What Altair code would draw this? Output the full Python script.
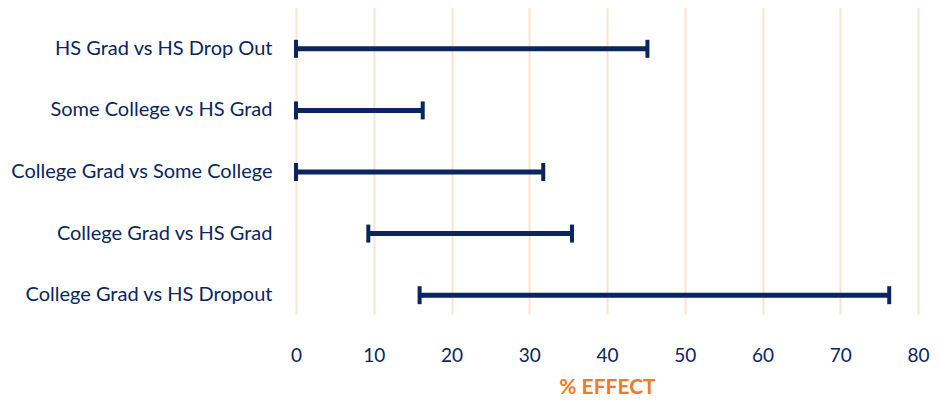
import altair as alt
import pandas as pd

comparisons = [
    "HS Grad vs HS Drop Out",
    "Some College vs HS Grad",
    "College Grad vs Some College",
    "College Grad vs HS Grad",
    "College Grad vs HS Dropout",
]
low = [0.0, 0.0, 0.0, 9.3, 15.9]
high = [45.2, 16.3, 31.8, 35.5, 76.3]
x_ticks = [0, 10, 20, 30, 40, 50, 60, 70, 80]

df = pd.DataFrame({"comparison": comparisons, "low": low, "high": high})

NAVY = "#0b2560"
ORANGE = "#f07a2b"
GRID = "#fde3cc"
FONT = "Lato"

y_scale = alt.Scale(domain=comparisons, range=[8, 316], paddingInner=0, paddingOuter=0)
x_scale = alt.Scale(domain=[0, 80], nice=False)

x_axis = alt.Axis(
    values=x_ticks, grid=True, gridColor=GRID, gridWidth=2, domain=False, ticks=False,
    labelFlush=False,
    labelPadding=24, labelFontSize=19, labelColor=NAVY, labelFont=FONT,
    title="% EFFECT", titleColor=ORANGE, titleFontSize=21, titleFont=FONT,
    titleFontWeight="bold", titlePadding=11,
)
y_axis = alt.Axis(
    title=None, domain=False, ticks=False, grid=False, labelPadding=24,
    labelFontSize=20, labelColor=NAVY, labelFont=FONT, labelLimit=400,
)

base = alt.Chart(df)

rule = base.mark_rule(color=NAVY, strokeWidth=5, opacity=1).encode(
    y=alt.Y("comparison:N", scale=y_scale, axis=y_axis, sort=comparisons),
    x=alt.X("low:Q", scale=x_scale, axis=x_axis),
    x2="high:Q",
)
cap_lo = base.mark_tick(color=NAVY, thickness=4, size=18, orient="vertical", opacity=1).encode(
    y=alt.Y("comparison:N", scale=y_scale, sort=comparisons),
    x=alt.X("low:Q", scale=x_scale),
)
cap_hi = base.mark_tick(color=NAVY, thickness=4, size=18, orient="vertical", opacity=1).encode(
    y=alt.Y("comparison:N", scale=y_scale, sort=comparisons),
    x=alt.X("high:Q", scale=x_scale),
)

chart = (
    alt.layer(rule, cap_lo, cap_hi)
    .properties(
        width=622, height=312,
        autosize=alt.AutoSizeParams(type="none"),
        padding={"left": 288, "top": 2, "right": 14, "bottom": 75},
        view=alt.ViewBackground(strokeWidth=0, stroke="transparent"),
    )
    .configure_view(strokeWidth=0, stroke="transparent")
    .configure(background="white")
)

chart.save("out.html", embed_options={"renderer": "svg", "actions": False})
